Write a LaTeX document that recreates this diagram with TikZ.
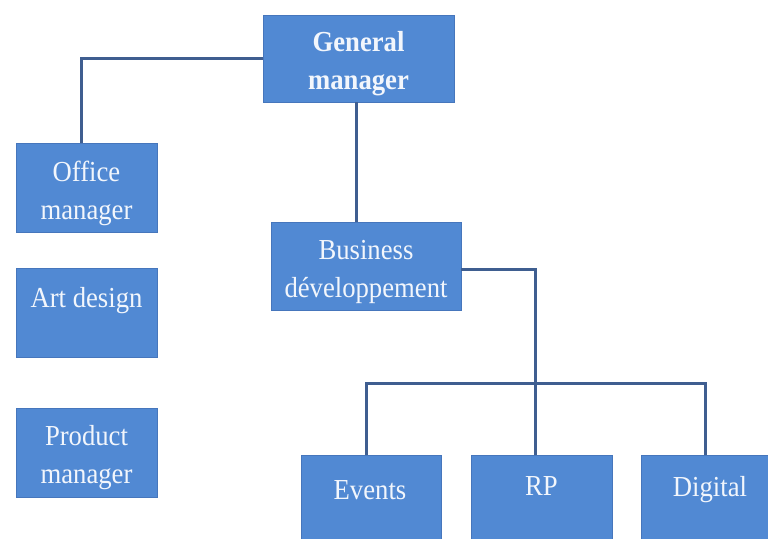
\documentclass[tikz,border=0pt]{standalone}
\usepackage{fontspec}
\setmainfont{Liberation Serif}[FakeStretch=0.92]
\begin{document}
\begin{tikzpicture}[x=1pt,y=-1pt,
  box/.style={draw=boxedge,line width=0.8pt,fill=boxfill,inner sep=0pt},
  lbl/.style={text=txt,inner sep=0pt,align=center,font=\fontsize{29}{38}\selectfont},
  conn/.style={draw=linecol,line width=3pt}]
\definecolor{boxfill}{HTML}{5189D3}
\definecolor{boxedge}{HTML}{4676BC}
\definecolor{linecol}{HTML}{3F5E90}
\definecolor{txt}{HTML}{F2F6FC}
\useasboundingbox (0,0) rectangle (768,538);
\fill[white] (0,0) rectangle (768,538);
% boxes
\node[box,minimum width=191pt,minimum height=87pt] (gm) at (358.5,58.5) {};
\node[box,minimum width=141pt,minimum height=89pt] (office) at (86.5,187.5) {};
\node[box,minimum width=141pt,minimum height=89pt] (art) at (86.5,312.5) {};
\node[box,minimum width=141pt,minimum height=89pt] (product) at (86.5,452.5) {};
\node[box,minimum width=190pt,minimum height=88pt] (bus) at (366,266) {};
\node[box,minimum width=140pt,minimum height=84pt] (events) at (371,497) {};
\node[box,minimum width=141pt,minimum height=84pt] (rp) at (541.5,497) {};
\node[box,minimum width=128pt,minimum height=84pt] (digital) at (705,497) {};
% texts
\node[lbl,font=\bfseries\fontsize{29}{38}\selectfont] (gmT) at (358.5,64) {General\\manager};
\node[lbl] (officeT) at (86.5,193) {Office\\manager};
\node[lbl] (artT) at (86.5,301) {Art design};
\node[lbl] (productT) at (86.5,458) {Product\\manager};
\node[lbl] (busT) at (366,272) {Business\\développement};
\node[lbl] (eventsT) at (370,490) {Events};
\node[lbl] (rpT) at (541.5,486) {RP};
\node[lbl] (digitalT) at (710,490) {Digital};
% connectors
\coordinate (bar) at (0,383);
\draw[conn] (gm.west) -| ([xshift=-5.5pt]office.north);
\draw[conn] ([xshift=-2.5pt]gm.south) -- ([xshift=-2.5pt]gm.south |- bus.north);
\draw[conn] ([yshift=-3pt]bus.east) -| ([xshift=-6.5pt]rp.north);
\draw[conn] ([xshift=-5pt]events.north) -- ([xshift=-5pt]events.north |- bar) -- (digital.north |- bar) -- (digital.north);
\end{tikzpicture}
\end{document}
